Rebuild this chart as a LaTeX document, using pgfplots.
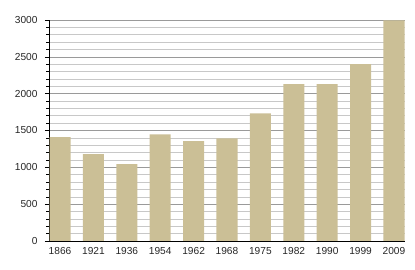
\documentclass[border=0pt]{standalone}
\usepackage{pgfplots}
\pgfplotsset{compat=1.18}
\usepackage{fontspec}
\setmainfont{Liberation Sans}
\definecolor{bar}{HTML}{CBBF96}
\definecolor{majgrid}{HTML}{9A9A9A}
\definecolor{mingrid}{HTML}{C8C8C8}
\begin{document}
\begin{tikzpicture}
\useasboundingbox (0,0) rectangle (415bp,270bp);
\begin{axis}[
  at={(49bp,29bp)}, anchor=south west,
  scale only axis, width=356bp, height=221bp,
  xmin=-0.33, xmax=10.33, ymin=0, ymax=3000,
  axis x line*=bottom, axis y line*=left,
  axis line style={black, line width=0.8pt},
  xtick={0,...,10},
  xticklabels={1866,1921,1936,1954,1962,1968,1975,1982,1990,1999,2009},
  x tick style={draw=none},
  ytick={0,500,...,3000},
  minor ytick={0,100,...,3000},
  ymajorgrids, yminorgrids,
  major grid style={majgrid, line width=0.6pt},
  minor grid style={mingrid, line width=0.6pt},
  y tick style={black, line width=0.6pt},
  tick align=outside,
  major tick length=4bp, minor tick length=2.5bp,
  tick label style={font=\fontsize{10.2}{11}\selectfont, text=black!85},
  /pgf/number format/assume math mode=true,
  /pgf/number format/1000 sep={},
  xticklabel style={yshift=1bp},
  yticklabel style={xshift=-4bp},
]
\addplot[ybar, bar width=0.63, fill=bar, draw=none] coordinates {
(0,1410) (1,1180) (2,1045) (3,1448) (4,1357) (5,1393) (6,1733) (7,2130) (8,2130) (9,2402) (10,2995)
};
\end{axis}
\end{tikzpicture}
\end{document}
